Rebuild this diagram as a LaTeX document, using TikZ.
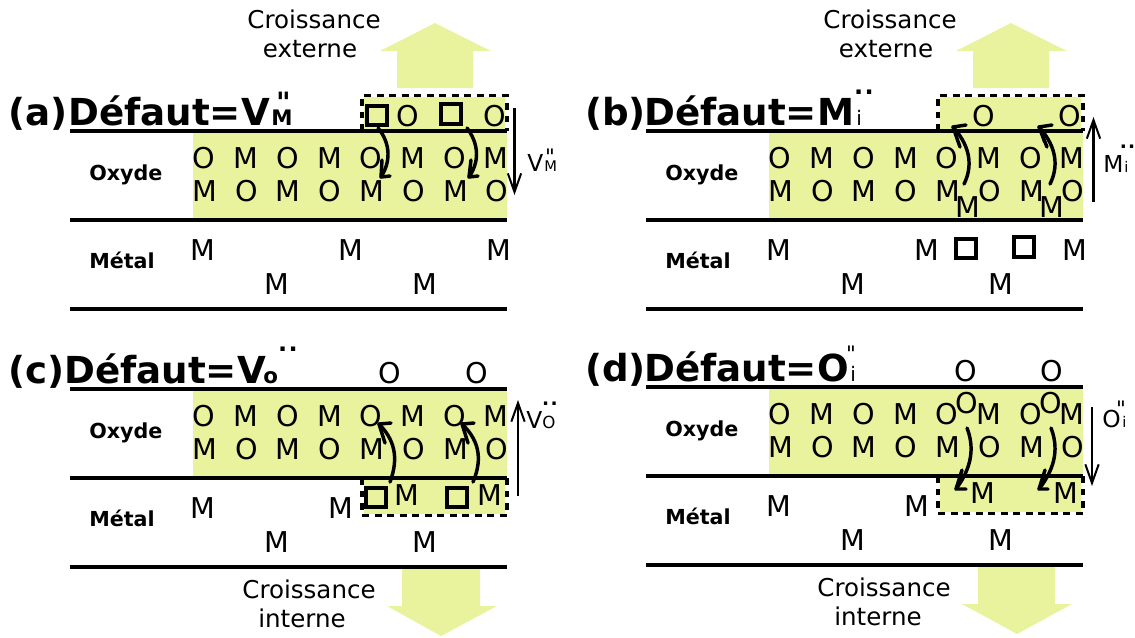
\documentclass[tikz,border=0pt]{standalone}
\usepackage{fontspec}
\setmainfont{DejaVu Sans}
\newfontfamily\plainfont{DejaVu Sans}
\usetikzlibrary{arrows.meta}
\definecolor{film}{HTML}{E9F39D}
\tikzset{
  atom/.style={anchor=base,inner sep=0pt,font=\fontsize{21.5}{22}\selectfont},
  layer/.style={anchor=base west,inner sep=0pt,font=\fontsize{15.5}{16}\selectfont\bfseries},
  growth/.style={anchor=base,inner sep=0pt,font=\fontsize{18.4}{20}\selectfont},
  heading/.style={anchor=base west,inner sep=0pt,font=\fontsize{27.9}{30}\selectfont\bfseries},
  subbold/.style={anchor=base west,inner sep=0pt,font=\fontsize{16}{18}\selectfont\bfseries},
  subthin/.style={anchor=base west,inner sep=0pt,font=\fontsize{15}{18}\selectfont},
  ticksbold/.style={anchor=base,inner sep=0pt,font=\plainfont\fontsize{21}{22}\selectfont\bfseries},
  ticksthin/.style={anchor=base,inner sep=0pt,font=\plainfont\fontsize{16}{18}\selectfont},
  dotsbig/.style={anchor=base,inner sep=0pt,font=\fontsize{18}{18}\selectfont\bfseries},
  dotssmall/.style={anchor=base,inner sep=0pt,font=\fontsize{14}{14}\selectfont\bfseries},
  deflabel/.style={anchor=base west,inner sep=0pt,font=\fontsize{17.5}{20}\selectfont},
  defsub/.style={anchor=base west,inner sep=0pt,font=\fontsize{11}{12}\selectfont},
  rule/.style={line width=2.3pt},
  dashbox/.style={line width=2.3pt,dash pattern=on 5.2pt off 4.2pt},
  vac/.style={draw,line width=3pt,minimum size=14.5pt,inner sep=0pt},
  hop/.style={line width=2.6pt,line cap=round,line join=round},
  flux/.style={line width=1.6pt,-{Straight Barb[length=14pt,width=10pt,line width=1.5pt]}},
}
% common lattice of a panel: #1 = prefix
\newcommand{\lattice}[1]{%
  \fill[film] (193,131) rectangle (507,220);
  \draw[rule] (70,131) -- (507,131);
  \draw[rule] (70,220) -- (507,220);
  \draw[rule] (70,309) -- (507,309);
  \foreach \n/\x/\t in {1/204/O,2/246/M,3/288/O,4/330/M,5/371/O,6/413/M,7/455/O,8/496/M}
    \node[atom] (#1r\n) at (\x,168) {\t};
  \foreach \n/\x/\t in {1/205/M,2/247/O,3/288/M,4/330/O,5/372/M,6/414/O,7/456/M,8/497/O}
    \node[atom] (#1s\n) at (\x,201) {\t};
  \node[layer] (#1ox) at (89,180.5) {Oxyde};
  \node[layer] (#1me) at (89,268) {Métal};
  \node[atom] (#1m1) at (203,260) {M};
  \node[atom] (#1m2) at (277,294) {M};
  \node[atom] (#1m3) at (425,294) {M};
}
% curved hop with an open, hand-drawn tip: start, bulge controls, tip, arm, arm
\newcommand{\hopline}[7]{%
  \draw[hop] #1 .. controls #2 and #3 .. #4;
  \draw[hop] #5 -- #4 -- #6;
  \draw[hop,line width=1.6pt] #7 -- #4;
}
\begin{document}
\begin{tikzpicture}[x=0.75pt,y=-0.75pt]
\useasboundingbox (0,0) rectangle (1135,637);
% ---------- panel (a)
\begin{scope}
  \fill[film] (380,51) -- (435,23) -- (491,51) -- (473,51) -- (473,88) -- (397,88) -- (397,51) -- cycle;
  \node[growth] (aga) at (314,28) {Croissance};
  \node[growth] (agb) at (310,57) {externe};
  \fill[film] (364,97) rectangle (504.5,131);
  \lattice{a}
  \draw[dashbox] (362,131) -- (362,95.5) -- (507,95.5) -- (507,131);
  \node[heading] (at1) at (8,125) {(a)};
  \node[heading] (at2) at (68,125) {Défaut=V};
  \node[subbold] (at3) at (271,125) {M};
  \node[ticksbold] (at4) at (283.5,112) {"};
  \node[vac] (av1) at (377,115.5) {};
  \node[vac] (av2) at (451,114) {};
  \node[atom] (ao1) at (408,126) {O};
  \node[atom] (ao2) at (495,126) {O};
  \node[atom] (am2) at (351,260) {M};
  \node[atom] (am3) at (499,260) {M};
  \hopline{(378,128)}{(388,140)}{(393,158)}{(381,177)}{(382,160)}{(390,176)}{(382,165)}
  \hopline{(467,128)}{(476,140)}{(482,158)}{(469,177)}{(471,160)}{(478,176)}{(471,165)}
  \coordinate (af1) at (514.5,108);
  \coordinate (af2) at (514.5,195);
  \draw[flux] (af1) -- (af2);
  \node[deflabel] (al1) at (527,171) {V};
  \node[defsub] (al2) at (544,171) {M};
  \node[ticksthin] (al3) at (550,164) {"};
\end{scope}
% ---------- panel (b)
\begin{scope}[shift={(576,0)}]
  \fill[film] (380,51) -- (435,23) -- (491,51) -- (473,51) -- (473,88) -- (397,88) -- (397,51) -- cycle;
  \node[growth] (bga) at (314,28) {Croissance};
  \node[growth] (bgb) at (310,57) {externe};
  \fill[film] (364,97) rectangle (504.5,131);
  \lattice{b}
  \draw[dashbox] (362,131) -- (362,95.5) -- (507,95.5) -- (507,131);
  \node[heading] (bt1) at (9,125) {(b)};
  \node[heading] (bt2) at (68,125) {Défaut=M};
  \node[subthin] (bt3) at (280,125) {i};
  \node[dotsbig] (bt4) at (288,94) {.\kern1pt.};
  \node[atom] (bo1) at (408,126) {O};
  \node[atom] (bo2) at (494,126) {O};
  \node[atom] (bx1) at (392,217) {M};
  \node[atom] (bx2) at (476,217) {M};
  \node[vac] (bv1) at (390,248.5) {};
  \node[vac] (bv2) at (448,247) {};
  \node[atom] (bm2) at (351,260) {M};
  \node[atom] (bm3) at (499,260) {M};
  \hopline{(388,184)}{(396,168)}{(396,148)}{(377,127)}{(390,125)}{(384,147)}{(382,142)}
  \hopline{(474,184)}{(482,168)}{(482,148)}{(463,127)}{(476,125)}{(471,147)}{(468,142)}
  \coordinate (bf1) at (517.5,202);
  \coordinate (bf2) at (517.5,117);
  \draw[flux] (bf1) -- (bf2);
  \node[deflabel] (bl1) at (527,172) {M};
  \node[defsub] (bl2) at (548,172) {i};
  \node[dotssmall] (bl3) at (551.5,148) {.\kern1pt.};
\end{scope}
% ---------- panel (c)
\begin{scope}[shift={(0,258)}]
  \fill[film] (364,220) rectangle (504.5,256);
  \fill[film] (402,310) rectangle (480,348) (387,348) -- (497,348) -- (441,378) -- cycle;
  \node[growth] (cga) at (309,340) {Croissance};
  \node[growth] (cgb) at (302,369) {interne};
  \lattice{c}
  \draw[dashbox] (362,220) -- (362,257.5) -- (507,257.5) -- (507,220);
  \node[heading] (ct1) at (8,125) {(c)};
  \node[heading] (ct2) at (64,125) {Défaut=V};
  \node[subbold] (ct3) at (263,125) {o};
  \node[dotsbig] (ct4) at (288,93) {.\kern1pt.};
  \node[atom] (co1) at (390,125) {O};
  \node[atom] (co2) at (477,125) {O};
  \node[vac] (cv1) at (376,239.5) {};
  \node[vac] (cv2) at (457,239.5) {};
  \node[atom] (ck1) at (407,247) {M};
  \node[atom] (ck2) at (490,247) {M};
  \node[atom] (cm2) at (341,260) {M};
  \hopline{(390,224)}{(397,205)}{(398,185)}{(379,166)}{(391,165)}{(385,185)}{(384,181)}
  \hopline{(473,224)}{(481,205)}{(482,185)}{(462,166)}{(474,165)}{(468,185)}{(467,181)}
  \coordinate (cf1) at (518,238);
  \coordinate (cf2) at (518,142);
  \draw[flux] (cf1) -- (cf2);
  \node[deflabel] (cl1) at (526,170) {V};
  \node[defsub,font=\fontsize{12.5}{13}\selectfont] (cl2) at (542,170) {O};
  \node[dotssmall] (cl3) at (550,147) {.\kern1pt.};
\end{scope}
% ---------- panel (d)
\begin{scope}[shift={(576,256)}]
  \fill[film] (364,220) rectangle (504.5,256);
  \fill[film] (402,310) rectangle (479,348) (386,348) -- (496,348) -- (441,378) -- cycle;
  \node[growth] (dga) at (308,340) {Croissance};
  \node[growth] (dgb) at (302,369) {interne};
  \lattice{d}
  \draw[dashbox] (362,220) -- (362,257.5) -- (507,257.5) -- (507,220);
  \node[heading] (dt1) at (9,125) {(d)};
  \node[heading] (dt2) at (68,125) {Défaut=O};
  \node[subthin] (dt3) at (274,125) {i};
  \node[ticksthin] (dt4) at (275,105) {"};
  \node[atom] (do1) at (390,125) {O};
  \node[atom] (do2) at (476,125) {O};
  \node[atom] (dx1) at (391,157) {O};
  \node[atom] (dx2) at (475,157) {O};
  \node[atom] (dk1) at (407,247) {M};
  \node[atom] (dk2) at (490,247) {M};
  \node[atom] (dm2) at (341,260) {M};
  \hopline{(391,172)}{(398,190)}{(397,210)}{(380,233)}{(386,214)}{(390,233)}{(385,218)}
  \hopline{(475,172)}{(482,190)}{(481,210)}{(463,233)}{(469,214)}{(472,233)}{(468,218)}
  \coordinate (df1) at (516,151);
  \coordinate (df2) at (516,230);
  \draw[flux] (df1) -- (df2);
  \node[deflabel] (dl1) at (526,171) {O};
  \node[defsub] (dl2) at (546,171) {i};
  \node[ticksthin] (dl3) at (545,160) {"};
\end{scope}
\end{tikzpicture}
\end{document}
